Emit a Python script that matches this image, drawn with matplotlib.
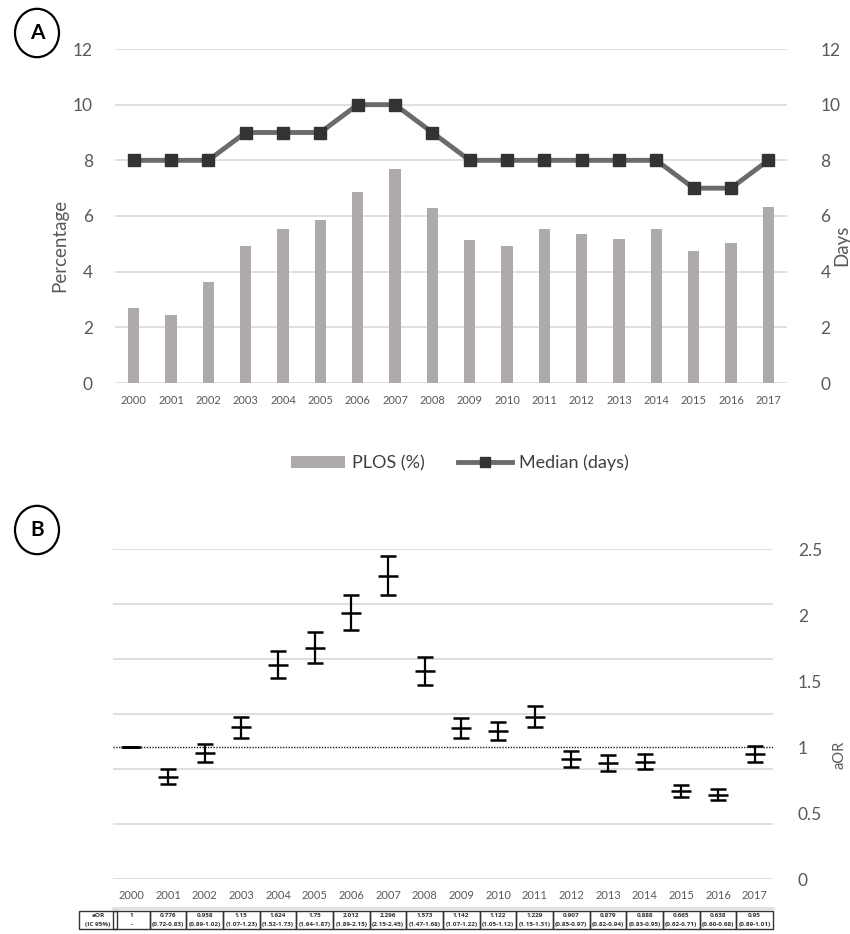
import matplotlib
matplotlib.use("Agg")
import matplotlib.pyplot as plt
from matplotlib.patches import Circle, Rectangle
from matplotlib.lines import Line2D
from matplotlib.patches import Patch
import matplotlib.transforms as mtransforms
import numpy as np

plt.rcParams['font.family'] = ['Lato', 'DejaVu Sans']

years = [str(y) for y in range(2000, 2018)]
plos_pct = [2.69, 2.43, 3.62, 4.91, 5.52, 5.84, 6.85, 7.68, 6.27,
            5.13, 4.91, 5.52, 5.34, 5.16, 5.55, 4.73, 5.04, 6.33]
median_days = [8, 8, 8, 9, 9, 9, 10, 10, 9, 8, 8, 8, 8, 8, 8, 7, 7, 8]

aor = [1, 0.776, 0.958, 1.15, 1.624, 1.75, 2.012, 2.296, 1.573,
       1.142, 1.122, 1.229, 0.907, 0.879, 0.888, 0.665, 0.638, 0.95]
# plotted CI bounds
ci_low = [1, 0.72, 0.89, 1.07, 1.52, 1.64, 1.89, 2.15, 1.47,
          1.07, 1.05, 1.15, 0.85, 0.82, 0.83, 0.62, 0.60, 0.89]
ci_high = [1, 0.83, 1.02, 1.23, 1.73, 1.87, 2.15, 2.45, 1.68,
           1.22, 1.19, 1.31, 0.97, 0.94, 0.95, 0.71, 0.68, 1.01]
aor_labels = ["1", "0.776", "0.958", "1.15", "1.624", "1.75", "2.012", "2.296", "1.573",
              "1.142", "1.122", "1.229", "0.907", "0.879", "0.888", "0.665", "0.638", "0.95"]
ci_labels = ["-", "(0.72-0.83)", "(0.89-1.02)", "(1.07-1.23)", "(1.52-1.73)", "(1.64-1.87)",
             "(1.89-2.15)", "(2.15-2.45)", "(1.47-1.68)", "(1.07-1.22)", "(1.05-1.12)",
             "(1.15-1.31)", "(0.85-0.97)", "(0.82-0.94)", "(0.83-0.95)", "(0.62-0.71)",
             "(0.60-0.68)", "(0.89-1.01)"]

W, H = 850, 934
fig = plt.figure(figsize=(W / 100, H / 100), dpi=100)

grid_c = '#d9d9d9'
tick_c = '#595959'
bar_c = '#aeaaaa'
line_c = '#6b6b6b'
mark_c = '#333333'

x = np.arange(len(years))

# ---------------- Panel A ----------------
axA = fig.add_axes([115 / W, (H - 383) / H, 672 / W, 334 / H])
axA.bar(x, plos_pct, width=0.3, color=bar_c, zorder=2)
axA.set_xlim(-0.5, len(years) - 0.5)
axA.set_ylim(0, 12)
axA.set_yticks(range(0, 13, 2))
axA.yaxis.grid(True, color=grid_c, lw=1.2, zorder=0)
axA.set_axisbelow(True)
for s in axA.spines.values():
    s.set_visible(False)
axA.set_xticks(x)
axA.set_xticklabels(years, fontsize=8, color=tick_c)
axA.tick_params(axis='x', length=0, pad=9)
axA.tick_params(axis='y', length=0, pad=16, labelsize=12.5, labelcolor=tick_c)

axA2 = axA.twinx()
axA2.plot(x, median_days, color=line_c, lw=3.5, marker='s', markersize=9,
          markerfacecolor=mark_c, markeredgecolor=mark_c, zorder=3)
axA2.set_ylim(0, 12)
axA2.set_yticks(range(0, 13, 2))
for s in axA2.spines.values():
    s.set_visible(False)
axA2.tick_params(axis='y', length=0, pad=24, labelsize=12.5, labelcolor=tick_c)

fig.text(60 / W, 1 - 245 / H, 'Percentage', rotation=90, fontsize=13.5,
         color=tick_c, ha='center', va='center')
fig.text(842 / W, 1 - 245 / H, 'Days', rotation=90, fontsize=13.5,
         color=tick_c, ha='center', va='center')

# legend
handles = [Patch(facecolor=bar_c, edgecolor='none'),
           Line2D([0], [0], color=line_c, lw=3.5, marker='s', markersize=7,
                  markerfacecolor=mark_c, markeredgecolor=mark_c)]
fig.legend(handles, ['PLOS (%)', 'Median (days)'], loc='center',
           bbox_to_anchor=(460 / W, 1 - 463 / H), ncol=2, frameon=False,
           fontsize=13, labelcolor='#404040', handlelength=3.0,
           handletextpad=0.4, columnspacing=1.8)

# ---------------- Panel B ----------------
axB = fig.add_axes([113 / W, (H - 879) / H, 660 / W, 330 / H])
axB.set_xlim(-0.5, len(years) - 0.5)
axB.set_ylim(0, 12)
axB.set_yticks(range(0, 13, 2))
axB.yaxis.grid(True, color=grid_c, lw=1.2, zorder=0)
axB.tick_params(axis='y', length=0, labelleft=False)
for s in axB.spines.values():
    s.set_visible(False)
axB.set_xticks(x)
axB.set_xticklabels(years, fontsize=8, color=tick_c)
axB.tick_params(axis='x', length=0, pad=8)

axB2 = axB.twinx()
axB2.set_ylim(0, 2.5)
axB2.set_yticks([0, 0.5, 1, 1.5, 2, 2.5])
axB2.set_yticklabels(['0', '0.5', '1', '1.5', '2', '2.5'])
for s in axB2.spines.values():
    s.set_visible(False)
axB2.tick_params(axis='y', length=0, pad=18, labelsize=12.5, labelcolor=tick_c)
fig.text(840 / W, 1 - 755 / H, 'aOR', rotation=90, fontsize=10.5,
         color=tick_c, ha='center', va='center')
axB2.axhline(1, color='#222222', lw=1, ls=(0, (1, 1)), zorder=2)
aor_a = np.array(aor)
err = [np.clip(aor_a - np.array(ci_low), 0, None),
       np.clip(np.array(ci_high) - aor_a, 0, None)]
axB2.errorbar(x, aor, yerr=err, fmt='_', color='black', ecolor='black',
              markersize=14, markeredgewidth=1.8, elinewidth=1.6,
              capsize=5.5, capthick=1.6, zorder=4)

# table under panel B
trans = mtransforms.blended_transform_factory(axB.transData, fig.transFigure)
row_top = 1 - 911 / H
row_mid = 1 - 920 / H
row_bot = 1 - 929 / H
tfont = dict(fontsize=4.6, fontweight='bold', ha='center', va='center',
             color='#333333', family=['Open Sans', 'DejaVu Sans'])
fig.add_artist(Line2D([113 / W, 773 / W], [1 - 908 / H, 1 - 908 / H],
                      color='#e0e0e0', lw=2, transform=fig.transFigure))
# header column
fig.add_artist(Rectangle((79 / W, row_bot), (117 - 79) / W, row_top - row_bot,
                         transform=fig.transFigure, fill=False, ec='#333333', lw=1.0))
fig.text(98 / W, (row_top + row_mid) / 2, 'aOR', **tfont)
fig.text(98 / W, (row_mid + row_bot) / 2, '(IC 95%)', **tfont)
for i in range(len(years)):
    r = Rectangle((i - 0.5, row_bot), 1.0, row_top - row_bot, transform=trans,
                  fill=False, ec='#333333', lw=1.0)
    fig.add_artist(r)
    fig.text(i, (row_top + row_mid) / 2, aor_labels[i], transform=trans, **tfont)
    fig.text(i, (row_mid + row_bot) / 2, ci_labels[i], transform=trans, **tfont)

# circled panel letters
for cy, letter in [(33, 'A'), (530, 'B')]:
    fig.add_artist(Circle((37 / W, 1 - cy / H), 22 / W, transform=fig.transFigure,
                          fill=False, ec='black', lw=1.6))
    fig.text(37 / W, 1 - cy / H, letter, fontsize=15, fontweight='bold',
             ha='center', va='center', color='black')

fig.savefig('out.png', dpi=100, facecolor='white')
